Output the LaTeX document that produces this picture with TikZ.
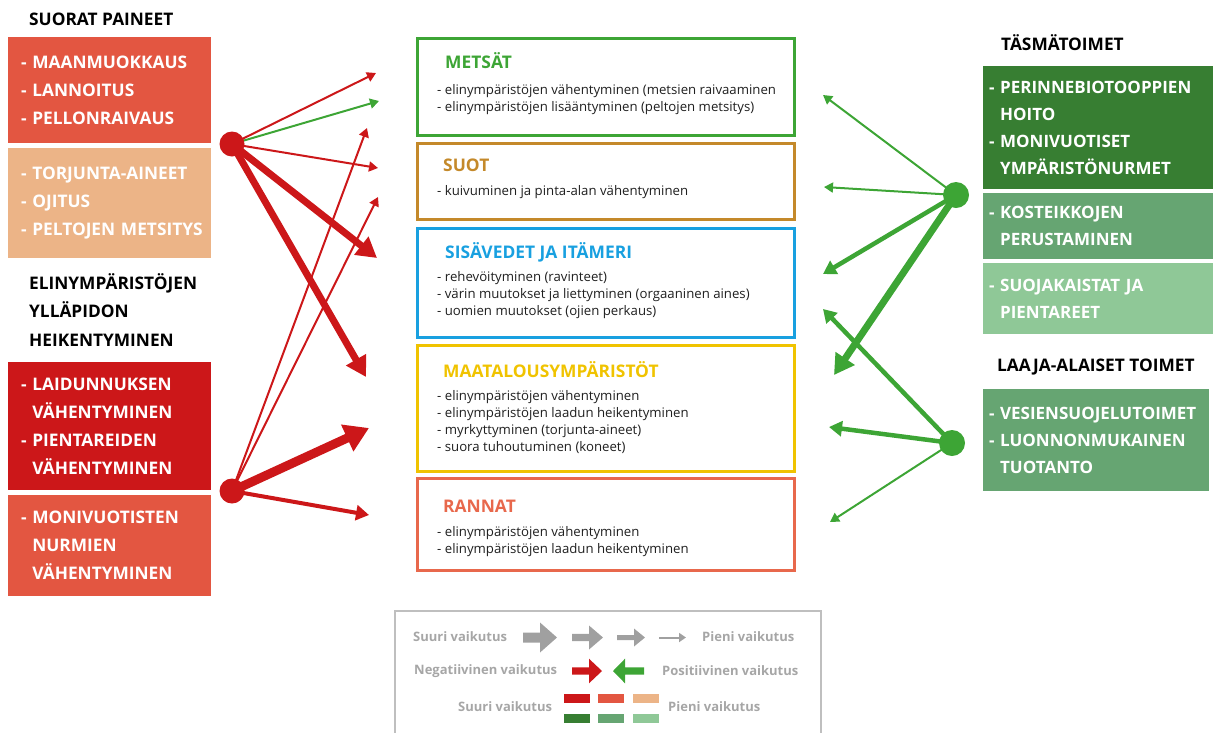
\documentclass[tikz,border=0pt]{standalone}
\usepackage{fontspec}
\setmainfont{Open Sans}
\usetikzlibrary{arrows.meta}
\definecolor{cRed}{HTML}{CC1719}
\definecolor{cOrange}{HTML}{E35641}
\definecolor{cPeach}{HTML}{ECB487}
\definecolor{gDark}{HTML}{377E32}
\definecolor{gMid}{HTML}{66A572}
\definecolor{gLight}{HTML}{8FC897}
\definecolor{gArrow}{HTML}{3DA535}
\definecolor{cMetsa}{HTML}{3DA535}
\definecolor{cSuo}{HTML}{C4892A}
\definecolor{cSisa}{HTML}{18A0E0}
\definecolor{cMaa}{HTML}{F0C300}
\definecolor{cRanta}{HTML}{E8684C}
\definecolor{cLeg}{HTML}{A6A6A6}
\definecolor{cLegArrow}{HTML}{A0A0A0}
\definecolor{cLegBorder}{HTML}{BFBFBF}
\begin{document}
\begin{tikzpicture}[x=1pt,y=-1pt,
  heading/.style={anchor=west, inner sep=0pt, align=left, text=black, font=\fontsize{17.3}{28.5}\selectfont\bfseries},
  lbox/.style={inner xsep=13pt, inner ysep=0pt, text width=177pt, align=left, text=white, font=\fontsize{17.3}{28}\selectfont\bfseries},
  rbox/.style={inner xsep=6pt, inner ysep=0pt, text width=218pt, align=left, text=white, font=\fontsize{17}{27}\selectfont\bfseries},
  cbox/.style={draw, line width=3pt, minimum width=377pt, inner sep=0pt},
  ctitle/.style={anchor=base west, inner sep=0pt, font=\fontsize{17.4}{20}\selectfont\bfseries},
  cbody/.style={anchor=west, inner sep=0pt, align=left, text=black!88, font=\fontsize{13.2}{17}\selectfont},
  hubR/.style={circle, fill=cRed, minimum size=25pt, inner sep=0pt},
  hubG/.style={circle, fill=gArrow, minimum size=26pt, inner sep=0pt},
  thinR/.style={draw=cRed, line width=2pt, -{Triangle[length=9pt,width=10pt]}},
  midR/.style={draw=cRed, line width=4pt, -{Triangle[length=13pt,width=15pt]}},
  thickR/.style={draw=cRed, line width=7pt, -{Triangle[length=20pt,width=22pt]}},
  hugeR/.style={draw=cRed, line width=9pt, -{Triangle[length=24pt,width=28pt]}},
  thinG/.style={draw=gArrow, line width=2pt, -{Triangle[length=9pt,width=10pt]}},
  midG/.style={draw=gArrow, line width=4.5pt, -{Triangle[length=13pt,width=15pt]}},
  thickG/.style={draw=gArrow, line width=7pt, -{Triangle[length=20pt,width=22pt]}},
  legtext/.style={anchor=west, inner sep=0pt, text=cLeg, font=\fontsize{13}{15}\selectfont\bfseries},
  swatch/.style={minimum width=26pt, minimum height=9pt, inner sep=0pt}
]
\useasboundingbox (0,0) rectangle (1213,732);

% ---------- left column ----------
\node[heading] (hSuorat) at (29,19) {SUORAT PAINEET};
\node[lbox, fill=cOrange, minimum height=106pt] (p1) at (109.5,90) {\mbox{- MAANMUOKKAUS}\\\mbox{- LANNOITUS}\\\mbox{- PELLONRAIVAUS}};
\node[lbox, fill=cPeach, minimum height=110pt] (p2) at (109.5,203) {\mbox{- TORJUNTA-AINEET}\\\mbox{- OJITUS}\\\mbox{- PELTOJEN METSITYS}};
\node[heading] (hElin) at (29,310) {ELINYMPÄRISTÖJEN\\YLLÄPIDON\\HEIKENTYMINEN};
\node[lbox, fill=cRed, minimum height=128pt] (p3) at (109.5,426) {\mbox{- LAIDUNNUKSEN}\\\phantom{- }VÄHENTYMINEN\\\mbox{- PIENTAREIDEN}\\\phantom{- }VÄHENTYMINEN};
\node[lbox, fill=cOrange, minimum height=101pt] (p4) at (109.5,545.5) {\mbox{- MONIVUOTISTEN}\\\phantom{- }NURMIEN\\\phantom{- }VÄHENTYMINEN};

% ---------- centre boxes ----------
\node[cbox, draw=cMetsa, minimum height=97pt] (metsat) at (606,87) {};
\node[ctitle, text=cMetsa] (metsatT) at (445,68.2) {METSÄT};
\node[cbody] (metsatB) at (437,99.5) {- elinympäristöjen vähentyminen (metsien raivaaminen\\- elinympäristöjen lisääntyminen (peltojen metsitys)};

\node[cbox, draw=cSuo, minimum height=76pt] (suot) at (606,181.5) {};
\node[ctitle, text=cSuo] (suotT) at (443,171.2) {SUOT};
\node[cbody] (suotB) at (437,192) {- kuivuminen ja pinta-alan vähentyminen};

\node[cbox, draw=cSisa, minimum height=109pt] (sisa) at (606,283) {};
\node[ctitle, text=cSisa] (sisaT) at (445,258.2) {SISÄVEDET JA ITÄMERI};
\node[cbody] (sisaB) at (437,295.5) {- rehevöityminen (ravinteet)\\- värin muutokset ja liettyminen (orgaaninen aines)\\- uomien muutokset (ojien perkaus)};

\node[cbox, draw=cMaa, minimum height=126pt] (maa) at (606,408.5) {};
\node[ctitle, text=cMaa] (maaT) at (443,377.2) {MAATALOUSYMPÄRISTÖT};
\node[cbody] (maaB) at (437,422.5) {- elinympäristöjen vähentyminen\\- elinympäristöjen laadun heikentyminen\\- myrkyttyminen (torjunta-aineet)\\- suora tuhoutuminen (koneet)};

\node[cbox, draw=cRanta, minimum height=92pt] (ranta) at (606,524.5) {};
\node[ctitle, text=cRanta] (rantaT) at (443,512.2) {RANNAT};
\node[cbody] (rantaB) at (437,541.5) {- elinympäristöjen vähentyminen\\- elinympäristöjen laadun heikentyminen};

% ---------- right column ----------
\node[heading] (hTasma) at (1001,43) {TÄSMÄTOIMET};
\node[rbox, fill=gDark, minimum height=123pt] (g1) at (1098,127.5) {\mbox{- PERINNEBIOTOOPPIEN}\\\phantom{- }HOITO\\\mbox{- MONIVUOTISET}\\\phantom{- }YMPÄRISTÖNURMET};
\node[rbox, fill=gMid, minimum height=66pt] (g2) at (1098,226) {\mbox{- KOSTEIKKOJEN}\\\phantom{- }PERUSTAMINEN};
\node[rbox, fill=gLight, minimum height=71pt] (g3) at (1098,298.5) {\mbox{- SUOJAKAISTAT JA}\\\phantom{- }PIENTAREET};
\node[heading] (hLaaja) at (997,367) {LAAJA-ALAISET TOIMET};
\node[rbox, fill=gMid, text width=214pt, minimum height=102pt] (g4) at (1096,440) {\mbox{- VESIENSUOJELUTOIMET}\\\mbox{- LUONNONMUKAINEN}\\\phantom{- }TUOTANTO};

% ---------- connectors ----------
\coordinate (hA) at (232,144);
\coordinate (hB) at (232,491);
\coordinate (hC) at (956,195);
\coordinate (hD) at (952,443);
\coordinate (tA1) at (376,73);
\coordinate (tA2) at (379,101);
\coordinate (tA3) at (378,168);
\coordinate (tA4) at (377,258);
\coordinate (tA5) at (366,377);
\coordinate (tB1) at (367,128);
\coordinate (tB2) at (378,197);
\coordinate (tB3) at (369,428);
\coordinate (tB4) at (369,515);
\coordinate (tC1) at (823,95);
\coordinate (tC2) at (824,187);
\coordinate (tC3) at (823,274);
\coordinate (tC4) at (834,375);
\coordinate (tD1) at (823,309);
\coordinate (tD2) at (829,427);
\coordinate (tD3) at (830,522);

\draw[thinR] (hA) -- (tA1);
\draw[thinG] (hA) -- (tA2);
\draw[thinR] (hA) -- (tA3);
\draw[thickR] (hA) -- (tA4);
\draw[thickR] (hA) -- (tA5);
\draw[thinR] (hB) -- (tB1);
\draw[thinR] (hB) -- (tB2);
\draw[hugeR] (hB) -- (tB3);
\draw[midR] (hB) -- (tB4);
\draw[thinG] (hC) -- (tC1);
\draw[thinG] (hC) -- (tC2);
\draw[midG] (hC) -- (tC3);
\draw[thickG] (hC) -- (tC4);
\draw[midG] (hD) -- (tD1);
\draw[midG] (hD) -- (tD2);
\draw[thinG] (hD) -- (tD3);

\node[hubR] (hubA) at (hA) {};
\node[hubR] (hubB) at (hB) {};
\node[hubG] (hubC) at (hC) {};
\node[hubG] (hubD) at (hD) {};

% ---------- legend ----------
\draw[cLegBorder, line width=2pt] (395,745) -- (395,611) -- (821,611) -- (821,745);
\node[legtext] (l1a) at (413,637) {Suuri vaikutus};
\node[legtext] (l1b) at (702,637) {Pieni vaikutus};
\node[legtext] (l2a) at (414,671) {Negatiivinen vaikutus};
\node[legtext] (l2b) at (662,671) {Positiivinen vaikutus};
\node[legtext] (l3a) at (458,707) {Suuri vaikutus};
\node[legtext] (l3b) at (668,707) {Pieni vaikutus};

\fill[cLegArrow] (523,632.5) -- (540,632.5) -- (540,622.5) -- (557,637.5) -- (540,652.5) -- (540,642.5) -- (523,642.5) -- cycle;
\fill[cLegArrow] (572,633.8) -- (589,633.8) -- (589,625.5) -- (603,637.5) -- (589,649.5) -- (589,641.2) -- (572,641.2) -- cycle;
\fill[cLegArrow] (617,635) -- (634,635) -- (634,628.5) -- (645,637.5) -- (634,646.5) -- (634,640) -- (617,640) -- cycle;
\coordinate (la0) at (659,637.5);
\coordinate (la1) at (686,637.5);
\draw[draw=cLegArrow, line width=2pt, -{Triangle[length=7pt,width=9pt]}] (la0) -- (la1);

\fill[cRed] (572,667.3) -- (589,667.3) -- (589,658.7) -- (602,671) -- (589,683.3) -- (589,674.7) -- (572,674.7) -- cycle;
\fill[gArrow] (644,667.3) -- (625,667.3) -- (625,658.7) -- (613,671) -- (625,683.3) -- (625,674.7) -- (644,674.7) -- cycle;

\node[swatch, fill=cRed] (s1) at (577,698.5) {};
\node[swatch, fill=cOrange] (s2) at (611,698.5) {};
\node[swatch, fill=cPeach] (s3) at (646,698.5) {};
\node[swatch, fill=gDark] (s4) at (577,718.5) {};
\node[swatch, fill=gMid] (s5) at (611,718.5) {};
\node[swatch, fill=gLight] (s6) at (646,718.5) {};
\end{tikzpicture}
\end{document}
